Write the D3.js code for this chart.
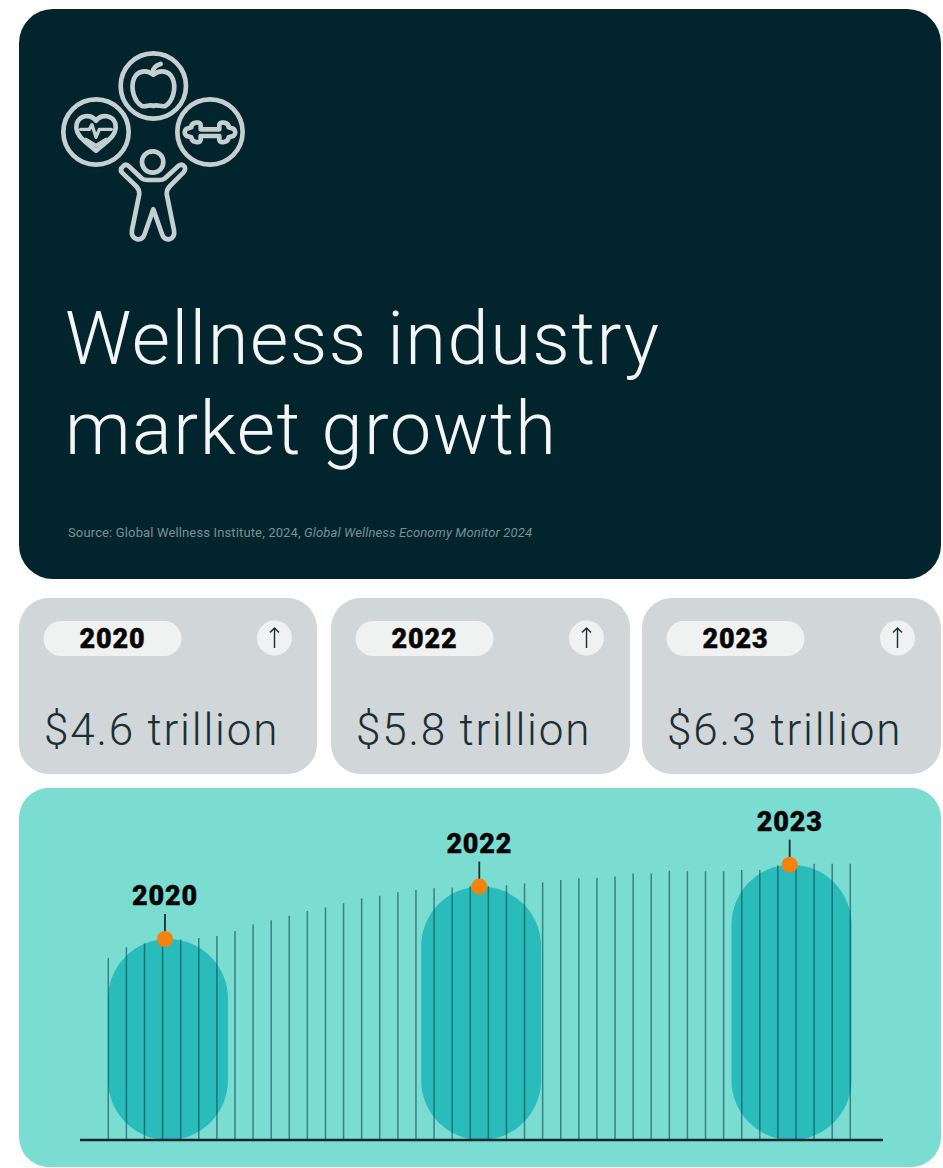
<!DOCTYPE html>
<html><head><meta charset="utf-8">
<script src="https://cdn.jsdelivr.net/npm/d3@7/dist/d3.min.js"></script>
<style>html,body{margin:0;padding:0;background:#fff}svg{display:block}</style>
</head><body><div id="chart"></div>
<script>
// Market size in US$ trillion
const years = ["2020", "2022", "2023"];
const yearValues = [4.6, 5.8, 6.3];
const valueLabels = ["$4.6 trillion", "$5.8 trillion", "$6.3 trillion"];
// Position of each year along the run of strips, in strip units
const yearOnStrips = [3.13, 20.5, 37.65];
const capsuleOnStrips = [3.3, 20.6, 37.75];
// Strip heights across the period, US$ trillion
const stripValues = [
  4.16, 4.41, 4.50, 4.58, 4.59, 4.62, 4.67, 4.78, 4.94, 5.03, 5.13, 5.24, 5.32, 5.42,
  5.53, 5.59, 5.67, 5.72, 5.76, 5.78, 5.81, 5.81, 5.83, 5.87, 5.90, 5.95, 5.99, 6.00,
  6.03, 6.10, 6.10, 6.16, 6.15, 6.15, 6.15, 6.18, 6.18, 6.29, 6.29, 6.32, 6.32, 6.32
];

const W = 943, H = 1168;
const svg = d3.select("#chart").append("svg").attr("width", W).attr("height", H);
const DARK = "#02242d", GREY = "#d1d6d8", TEAL = "#7bddd2", PILL = "#f0f2f2";
const SANS = "Roboto, sans-serif";

// Header panel
svg.append("rect").attr("x", 19).attr("y", 9).attr("width", 922).attr("height", 570).attr("rx", 34).attr("fill", DARK);

// Wellness emblem
const icon = svg.append("g").attr("transform", "translate(40,30) scale(0.3333)")
  .attr("fill", "none").attr("stroke", "#c6cfd0").attr("stroke-width", 14)
  .attr("stroke-linejoin", "round").attr("stroke-linecap", "round");
[[340, 168], [168, 306], [510, 306]].forEach(([cx, cy]) =>
  icon.append("circle").attr("cx", cx).attr("cy", cy).attr("r", 98));
icon.append("circle").attr("cx", 338).attr("cy", 396).attr("r", 32);
icon.append("path").attr("d",
  "M250 408 Q258 400 268 410 L305 445 Q312 450 322 450 L358 450 Q368 450 375 445 L415 408 Q426 400 434 410 Q438 420 430 428 L390 468 Q380 478 380 492 L402 600 Q406 622 388 628 Q372 630 366 612 L340 538 L314 612 Q308 630 292 628 Q272 622 276 600 L298 492 Q298 478 288 468 L246 428 Q238 418 250 408 Z");
icon.append("path").attr("d",
  "M340 134 C320 118 292 122 282 146 C270 176 284 216 306 228 C318 232 330 222 340 228 C350 222 364 232 376 228 C398 214 410 176 398 146 C388 122 360 118 340 134 Z");
icon.append("path").attr("d", "M338 126 Q340 108 362 102");
icon.append("path").attr("d",
  "M168 272 C150 250 118 256 110 282 C104 304 120 322 134 334 L168 362 L204 332 C218 320 232 304 226 280 C218 256 186 250 168 272 Z");
icon.append("path").attr("d", "M122 298 L148 298 L156 284 L168 322 L178 298 L214 298").attr("stroke-width", 10);
icon.append("path").attr("d", "M138 328 L168 346 L198 328").attr("stroke-width", 10);
icon.append("path").attr("d",
  "M482 298 L538 298 L538 284 Q540 276 552 278 Q566 280 566 292 L580 296 Q592 306 580 318 L566 322 Q566 334 552 336 Q540 338 538 330 L538 318 L482 318 L482 330 Q480 338 468 336 Q454 334 454 322 L440 318 Q428 306 440 296 L454 292 Q454 280 468 278 Q480 276 482 284 Z");

// Title and source
const title = svg.append("g").attr("fill", "#f4f6f6")
  .attr("font-family", SANS).attr("font-weight", 300).attr("font-size", 74);
title.append("text").attr("x", 65).attr("y", 364).attr("letter-spacing", 1.5).text("Wellness industry");
title.append("text").attr("x", 65).attr("y", 454).attr("letter-spacing", 1.5).text("market growth");

const source = svg.append("text").attr("x", 68).attr("y", 537)
  .attr("font-family", SANS).attr("font-size", 13).attr("letter-spacing", 0.14).attr("fill", "#7b8f94");
source.append("tspan").text("Source: Global Wellness Institute, 2024, ");
source.append("tspan").attr("font-style", "italic").text("Global Wellness Economy Monitor 2024");

// Year cards
const cardX = d3.scaleOrdinal().domain(years).range([19, 331, 642]);
const cardW = d3.scaleOrdinal().domain(years).range([298, 299, 299]);
const cards = svg.selectAll("g.card").data(years).join("g").attr("class", "card")
  .attr("transform", d => `translate(${cardX(d)},598)`);
cards.append("rect").attr("width", d => cardW(d)).attr("height", 176).attr("rx", 30).attr("fill", GREY);
cards.append("rect").attr("x", 24.5).attr("y", 23).attr("width", 138).attr("height", 35).attr("rx", 17.5).attr("fill", PILL);
cards.append("text").attr("x", 93.5).attr("y", 50).attr("text-anchor", "middle")
  .attr("font-family", SANS).attr("font-weight", 900).attr("font-size", 27).attr("letter-spacing", 0.8)
  .attr("stroke", "#050505").attr("stroke-width", 0.4).attr("fill", "#050505").text(d => d);
cards.append("circle").attr("cx", 255.5).attr("cy", 40).attr("r", 17.5).attr("fill", PILL);
cards.append("path").attr("d", "M255.5 50V30M251 34.5L255.5 30L260 34.5")
  .attr("fill", "none").attr("stroke", "#1a2a2e").attr("stroke-width", 1.4);
cards.append("text").attr("x", 25).attr("y", 147).attr("letter-spacing", 1.8)
  .attr("font-family", SANS).attr("font-weight", 300).attr("font-size", 44).attr("fill", "#1c2f34")
  .text((d, i) => valueLabels[i]);

// Chart panel
svg.append("rect").attr("x", 19).attr("y", 788).attr("width", 922).attr("height", 379).attr("rx", 30).attr("fill", TEAL);

const x = d3.scaleLinear().domain([0, stripValues.length - 1]).range([108.3, 850.3]);
const y = d3.scaleLinear().domain([0, 6.3]).range([1140, 864.7]);
const capsuleW = 120;

// Capsules rising to each year's value
svg.append("g").selectAll("rect").data(years).join("rect")
  .attr("x", (d, i) => x(capsuleOnStrips[i]) - capsuleW / 2)
  .attr("y", (d, i) => y(yearValues[i]))
  .attr("width", capsuleW)
  .attr("height", (d, i) => y(0) - y(yearValues[i]))
  .attr("rx", capsuleW / 2)
  .attr("fill", "#2abbbb");

svg.append("g").selectAll("line").data(stripValues).join("line")
  .attr("x1", (d, i) => x(i)).attr("x2", (d, i) => x(i))
  .attr("y1", y(0)).attr("y2", d => y(d))
  .attr("stroke", "#0b4a52").attr("stroke-opacity", 0.62).attr("stroke-width", 1.5);

// Baseline
svg.append("line").attr("x1", 80).attr("x2", 883).attr("y1", y(0)).attr("y2", y(0))
  .attr("stroke", "#06282e").attr("stroke-width", 2.4);

// Year markers
const marks = svg.append("g").selectAll("g").data(years).join("g")
  .attr("transform", (d, i) => `translate(${x(yearOnStrips[i])},${y(yearValues[i])})`);
marks.append("line").attr("y1", -25).attr("y2", 0).attr("stroke", "#1b2f33").attr("stroke-width", 1.8);
marks.append("circle").attr("r", 8).attr("fill", "#f5820a");
marks.append("text").attr("y", -34).attr("text-anchor", "middle")
  .attr("font-family", SANS).attr("font-weight", 900).attr("font-size", 27).attr("letter-spacing", 0.8)
  .attr("stroke", "#050505").attr("stroke-width", 0.4).attr("fill", "#050505").text(d => d);
</script></body></html>
